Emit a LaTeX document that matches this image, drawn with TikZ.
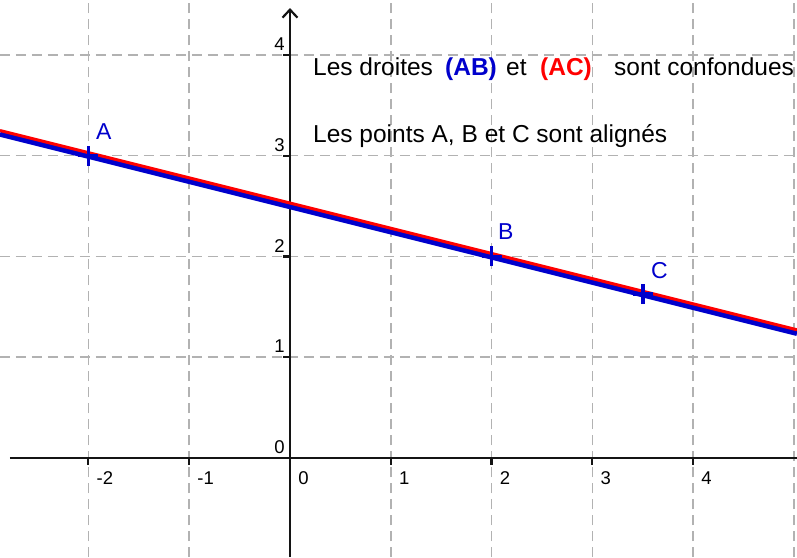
\documentclass[tikz,border=0pt]{standalone}
\usepackage{fontspec}
\setmainfont{Liberation Sans}
\usetikzlibrary{arrows.meta}
\definecolor{gridgray}{RGB}{178,178,178}
\definecolor{ggblue}{RGB}{0,0,204}
\definecolor{ggred}{RGB}{255,0,0}
\definecolor{axisblack}{RGB}{20,20,20}
\tikzset{
  gridline/.style={gridgray, line width=1.5pt, dash pattern=on 10pt off 6pt},
  axisline/.style={axisblack, line width=2.2pt},
  tickmark/.style={axisblack, line width=2.2pt},
  ticklabel/.style={inner sep=0pt, font=\fontsize{18.5}{20}\selectfont},
  maintext/.style={inner sep=0pt, anchor=base west, font=\fontsize{24.5}{28}\selectfont},
  ptlabel/.style={inner sep=0pt, anchor=base west, text=ggblue, font=\fontsize{23}{26}\selectfont},
  ptcross/.style={ggblue, line width=3.5pt},
}
\begin{document}
\begin{tikzpicture}[x=100.8pt, y=100.8pt]
\useasboundingbox[fill=white] (-2.877,-0.982) rectangle (5.030,4.544);
% grid
\foreach \i in {-2,-1,1,2,3,4,5} \draw[gridline] (\i,-0.982) -- (\i,4.544);
\foreach \j in {1,2,3,4} \draw[gridline] (-2.877,\j) -- (5.030,\j);
% axes
\coordinate (xl) at (-2.778,0);
\coordinate (xr) at (5.030,0);
\coordinate (yb) at (0,-0.982);
\coordinate (yt) at (0,4.464);
\draw[axisline] (xl) -- (xr);
\draw[axisline, -{Straight Barb[length=8pt, width=15pt, line width=2.2pt]}] (yb) -- (yt);
% ticks
\foreach \i in {-2,-1,1,2,3,4} \draw[tickmark] (\i,0) -- (\i,-0.07);
\foreach \j in {1,2,3,4} \draw[tickmark] (0,\j) -- (-0.07,\j);
% tick labels
\foreach \i/\n in {-2/xa,-1/xb,0/xc,1/xd,2/xe,3/xf,4/xg}
  \node[ticklabel, anchor=north west] (\n) at (\i+0.08,-0.13) {\i};
\foreach \j/\n in {0/ya,1/yb1,2/yc,3/yd,4/ye}
  \node[ticklabel, anchor=south east] (\n) at (-0.05,\j+0.04) {\j};
% lines
\coordinate (L1) at (-2.877,{2.5+2.877/4});
\coordinate (L2) at (5.030,{2.5-5.030/4});
\draw[ggblue, line width=5.5pt] ([yshift=-0.5pt]L1) -- ([yshift=-0.5pt]L2);
\draw[ggred, line width=3pt] ([yshift=3pt]L1) -- ([yshift=3pt]L2);
% points
\coordinate (A) at (-2,3);
\coordinate (B) at (2,2);
\coordinate (C) at (3.5,1.625);
\foreach \p in {A,B,C} {
  \draw[ptcross] ([xshift=-10pt]\p) -- ([xshift=10pt]\p);
  \draw[ptcross] ([yshift=-10pt]\p) -- ([yshift=10pt]\p);
}
\node[ptlabel] (lA) at ({(96-290)/100.8},{(458-139)/100.8}) {A};
\node[ptlabel] (lB) at ({(498-290)/100.8},{(458-239)/100.8}) {B};
\node[ptlabel] (lC) at ({(651-290)/100.8},{(458-278)/100.8}) {C};
% text
\node[maintext] (t1) at ({(313-290)/100.8},3.79) {Les droites};
\node[maintext, text=ggblue, font=\fontsize{24.5}{28}\selectfont\bfseries] (t2) at ({(445-290)/100.8},3.79) {(AB)};
\node[maintext] (t3) at ({(506-290)/100.8},3.79) {et};
\node[maintext, text=ggred, font=\fontsize{24.5}{28}\selectfont\bfseries] (t4) at ({(540-290)/100.8},3.79) {(AC)};
\node[maintext] (t5) at ({(614-290)/100.8},3.79) {sont confondues};
\node[maintext] (t6) at ({(313-290)/100.8},3.135) {Les points A, B et C sont alignés};
\end{tikzpicture}
\end{document}
